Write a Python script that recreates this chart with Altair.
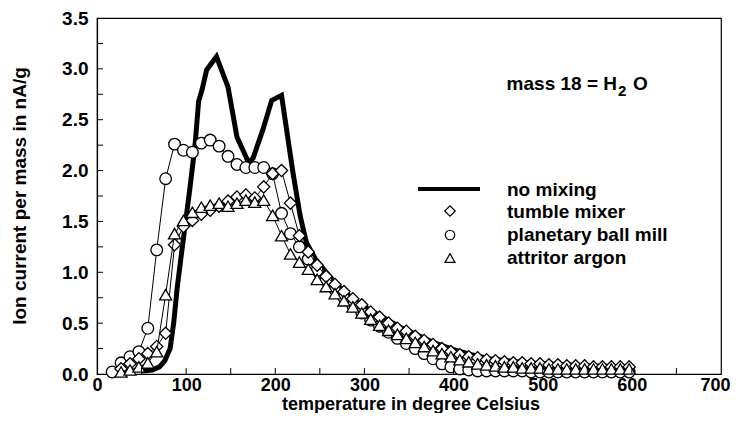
import altair as alt
import pandas as pd

# ---------------- data ----------------
temps = [17, 27, 37, 47, 57, 67, 77, 87, 97, 107, 117, 127, 137, 147, 157, 167, 177, 187, 197, 207,
         217, 227, 237, 247, 257, 267, 277, 287, 297, 307, 317, 327, 337, 347, 357, 367, 377, 387, 397, 407,
         417, 427, 437, 447, 457, 467, 477, 487, 497, 507, 517, 527, 537, 547, 557, 567, 577, 587, 597]

planetary = [0.02, 0.11, 0.17, 0.22, 0.45, 1.22, 1.92, 2.26, 2.20, 2.18, 2.27, 2.30, 2.24, 2.14, 2.06, 2.03, 2.03, 2.03, 1.97, 1.58,
             1.38, 1.25, 1.13, 1.02, 0.92, 0.83, 0.75, 0.67, 0.60, 0.53, 0.47, 0.41, 0.35, 0.30, 0.25, 0.20, 0.15, 0.10, 0.07, 0.05,
             0.04, 0.03, 0.03, 0.03, 0.03, 0.03, 0.03, 0.02, 0.02, 0.02, 0.02, 0.02, 0.02, 0.02, 0.02, 0.02, 0.02, 0.02, 0.02]

tumble = [0.05, 0.10, 0.15, 0.20, 0.27, 0.40, 1.27, 1.45, 1.51, 1.57, 1.61, 1.65, 1.70, 1.74, 1.76, 1.73, 1.84, 1.97, 2.00,
          1.68, 1.36, 1.20, 1.07, 0.96, 0.88, 0.81, 0.74, 0.68, 0.61, 0.56, 0.50, 0.45, 0.42, 0.37, 0.33, 0.29, 0.25, 0.22, 0.19,
          0.17, 0.16, 0.14, 0.13, 0.12, 0.11, 0.11, 0.10, 0.10, 0.09, 0.09, 0.08, 0.08, 0.08, 0.07, 0.07, 0.07, 0.07, 0.07]

attritor = [0.02, 0.04, 0.07, 0.11, 0.22, 0.78, 1.38, 1.51, 1.59, 1.64, 1.66, 1.68, 1.65, 1.68, 1.71, 1.69, 1.71, 1.56, 1.36,
            1.18, 1.10, 1.03, 0.93, 0.86, 0.79, 0.72, 0.66, 0.60, 0.54, 0.48, 0.43, 0.39, 0.35, 0.31, 0.27, 0.23, 0.20, 0.17, 0.14,
            0.12, 0.10, 0.09, 0.08, 0.07, 0.07, 0.06, 0.06, 0.06, 0.05, 0.05, 0.05, 0.05, 0.05, 0.05, 0.05, 0.05, 0.05, 0.05]

nomix_t = [50, 62, 70, 76, 82, 86, 90, 95, 99, 104, 110, 114, 118, 123, 134, 147, 157, 170, 175, 186, 196, 207,
           220, 228, 235, 245, 258, 270, 280, 290, 300, 320, 340, 360, 380, 400, 420, 440, 460, 480, 500, 550, 600]
nomix_v = [0.03, 0.04, 0.07, 0.13, 0.25, 0.50, 0.85, 1.20, 1.47, 1.81, 2.25, 2.68, 2.80, 2.99, 3.12, 2.82, 2.33, 2.08, 2.12, 2.40, 2.69, 2.74,
           1.97, 1.55, 1.29, 1.13, 0.99, 0.87, 0.79, 0.72, 0.66, 0.56, 0.46, 0.38, 0.30, 0.24, 0.19, 0.15, 0.13, 0.11, 0.10, 0.08, 0.07]

series_names = ["no mixing", "tumble mixer", "planetary ball mill", "attritor argon"]
x_labels = [0, 100, 200, 300, 400, 500, 600, 700]
y_labels = [0.0, 0.5, 1.0, 1.5, 2.0, 2.5, 3.0, 3.5]
x_ticks = [50, 100, 150, 200, 250, 300, 350, 400, 450, 500, 550, 600, 650]
y_ticks = [0.25, 0.5, 0.75, 1.0, 1.25, 1.5, 1.75, 2.0, 2.25, 2.5, 2.75, 3.0, 3.25]

# ---------------- chart ----------------
W, H = 624, 356
FONT = "Liberation Sans"
xs = alt.Scale(domain=[0, 700], nice=False, zero=False)
ys = alt.Scale(domain=[0, 3.5], nice=False, zero=False)

x_axis = alt.Axis(values=x_labels, format="d", title=None, ticks=False, tickSize=0, grid=False,
                  labelFont=FONT, labelFontWeight="bold", labelFontSize=18, labelColor="black",
                  labelPadding=2, labelFlush=False, labelOverlap=False, domainColor="black", domainWidth=1.2,
                  labelOffset={"condition": {"test": "datum.value === 700", "value": -6}, "value": 0})
y_axis = alt.Axis(values=y_labels, format=".1f", title=None, ticks=False, tickSize=0, grid=False,
                  labelFont=FONT, labelFontWeight="bold", labelFontSize=19, labelColor="black",
                  labelPadding=9, labelFlush=False, labelOverlap=False, domainColor="black", domainWidth=1.2)

nomix_df = pd.DataFrame({"t": nomix_t, "v": nomix_v})
thick = alt.Chart(nomix_df).mark_line(color="black", strokeWidth=5, strokeJoin="miter").encode(
    x=alt.X("t:Q", scale=xs, axis=x_axis),
    y=alt.Y("v:Q", scale=ys, axis=y_axis),
)


def marker_series(tlist, vlist, shape, size):
    df = pd.DataFrame({"t": tlist, "v": vlist})
    ln = alt.Chart(df).mark_line(color="black", strokeWidth=1).encode(
        x=alt.X("t:Q", scale=xs), y=alt.Y("v:Q", scale=ys))
    pt = alt.Chart(df).mark_point(shape=shape, filled=True, fill="white", stroke="black",
                                  strokeWidth=1.3, opacity=1, size=size).encode(
        x=alt.X("t:Q", scale=xs), y=alt.Y("v:Q", scale=ys))
    return ln + pt


circ = marker_series(temps, planetary, "circle", 135)
diam = marker_series(temps[1:], tumble, "diamond", 150)
tri = marker_series(temps[1:], attritor, "triangle-up", 145)

# inward ticks
ytick_df = pd.DataFrame({"v": y_ticks})
ytk = alt.Chart(ytick_df).mark_rule(color="black", strokeWidth=1).encode(
    y=alt.Y("v:Q", scale=ys), x=alt.value(0), x2=alt.value(6))
xtick_df = pd.DataFrame({"t": x_ticks})
xtk = alt.Chart(xtick_df).mark_rule(color="black", strokeWidth=1).encode(
    x=alt.X("t:Q", scale=xs), y=alt.value(H), y2=alt.value(H - 6))

one = pd.DataFrame({"a": [0]})

# axis titles
xtitle = alt.Chart(one).mark_text(text="temperature in degree Celsius", font=FONT, fontSize=18,
                                  fontWeight="bold", color="black", align="center", baseline="alphabetic").encode(
    x=alt.value(W / 2 + 2), y=alt.value(391.5))
ytitle = alt.Chart(one).mark_text(text="Ion current per mass in nA/g", font=FONT, fontSize=19,
                                  fontWeight="bold", color="black", align="center", baseline="middle",
                                  angle=270).encode(
    x=alt.value(-77), y=alt.value(H / 2))

# annotation
ann1 = alt.Chart(one).mark_text(text="mass 18 = H", font=FONT, fontSize=19, fontWeight="bold",
                                color="black", align="right", baseline="alphabetic").encode(
    x=alt.value(520), y=alt.value(72))
ann2 = alt.Chart(one).mark_text(text="2", font=FONT, fontSize=15, fontWeight="bold",
                                color="black", align="left", baseline="alphabetic").encode(
    x=alt.value(521), y=alt.value(78))
ann3 = alt.Chart(one).mark_text(text="O", font=FONT, fontSize=19, fontWeight="bold",
                                color="black", align="left", baseline="alphabetic").encode(
    x=alt.value(536), y=alt.value(72))

# legend
leg_line = alt.Chart(one).mark_rule(color="black", strokeWidth=4).encode(
    x=alt.value(321), x2=alt.value(383), y=alt.value(171))
leg_d = alt.Chart(one).mark_point(shape="diamond", filled=True, fill="white", stroke="black",
                                  strokeWidth=1.2, opacity=1, size=110).encode(x=alt.value(353), y=alt.value(193))
leg_c = alt.Chart(one).mark_point(shape="circle", filled=True, fill="white", stroke="black",
                                  strokeWidth=1.2, opacity=1, size=90).encode(x=alt.value(353), y=alt.value(217))
leg_t = alt.Chart(one).mark_point(shape="triangle-up", filled=True, fill="white", stroke="black",
                                  strokeWidth=1.2, opacity=1, size=100).encode(x=alt.value(353), y=alt.value(240))
leg_texts = []
for name, yy in zip(series_names, [172, 194, 217, 240]):
    leg_texts.append(alt.Chart(one).mark_text(text=name, font=FONT, fontSize=19, fontWeight="bold",
                                              color="black", align="left", baseline="middle").encode(
        x=alt.value(410), y=alt.value(yy)))

chart = alt.layer(thick, circ, diam, tri, ytk, xtk, xtitle, ytitle, ann1, ann2, ann3,
                  leg_line, leg_d, leg_c, leg_t, *leg_texts).properties(
    width=W, height=H,
    padding={"left": 89, "top": 10, "right": 10, "bottom": 39},
    autosize=alt.AutoSizeParams(type="none"),
    background="white",
).configure_view(stroke="black", strokeWidth=1.2)

chart.save("out.html", embed_options={"renderer": "svg", "actions": False})
